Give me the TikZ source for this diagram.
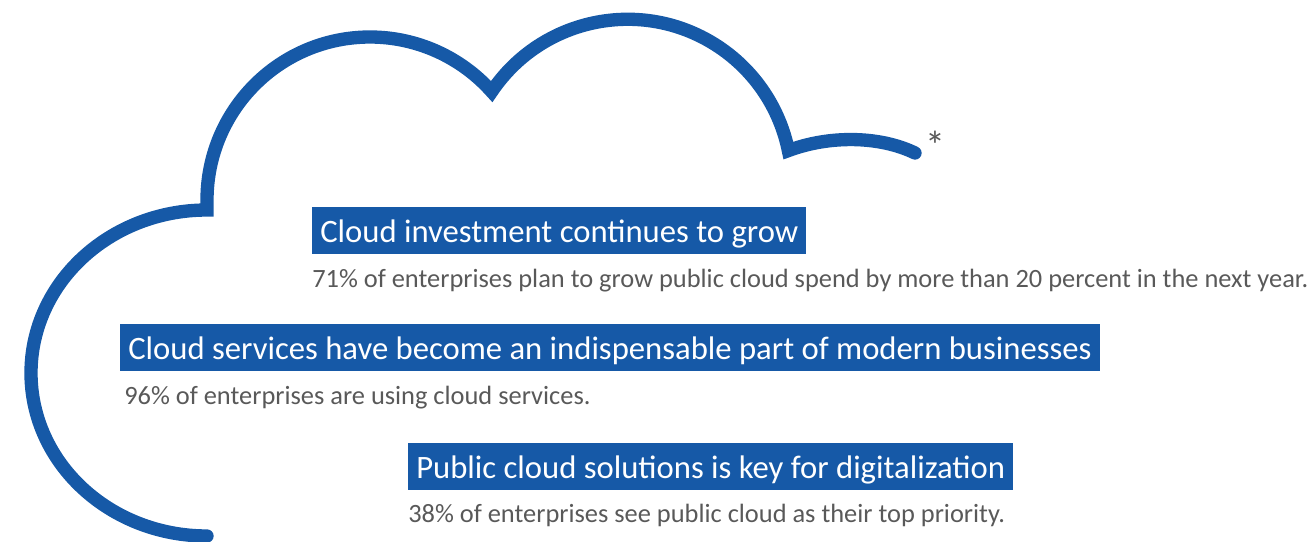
\documentclass[tikz,border=0pt]{standalone}
\usepackage{fontspec}
\setmainfont{Carlito}
\definecolor{cblue}{RGB}{22,89,167}
\definecolor{cgray}{RGB}{89,89,89}
\begin{document}
\begin{tikzpicture}[x=0.75pt,y=-0.75pt,
  cloudline/.style={draw=cblue,line width=10pt,line cap=round,line join=miter,miter limit=6},
  titlebox/.style={fill=cblue,text=white,font=\fontsize{24.5}{28}\selectfont,anchor=base west,
    inner xsep=6pt,inner ysep=0pt,text height=26.25pt,text depth=9pt},
  subtext/.style={text=cgray,font=\fontsize{19.8}{22}\selectfont,anchor=base west,inner sep=0pt}]
\useasboundingbox (0,0) rectangle (1313,542);
% cloud outline
\draw[cloudline] (207,536)
  arc[start angle=270,end angle=90,x radius=132pt,y radius=122.25pt]
  -- (207,200)
  arc[start angle=180,end angle=41.7,radius=122.25pt]
  arc[start angle=146,end angle=11.5,radius=123pt]
  .. controls (830,135) and (880,136) .. (915,153);
\node[text=cgray,font=\fontsize{30}{30}\selectfont,inner sep=0pt] (star) at (935,145) {*};
% texts
\node[titlebox] (t1) at (312,242) {Cloud investment continues to grow};
\node[subtext] (s1) at (312,287) {71\% of enterprises plan to grow public cloud spend by more than 20 percent in the next year.};
\node[titlebox] (t2) at (120,359) {Cloud services have become an indispensable part of modern businesses};
\node[subtext] (s2) at (124,404) {96\% of enterprises are using cloud services.};
\node[titlebox] (t3) at (408,478) {Public cloud solutions is key for digitalization};
\node[subtext] (s3) at (408,522) {38\% of enterprises see public cloud as their top priority.};
\end{tikzpicture}
\end{document}
